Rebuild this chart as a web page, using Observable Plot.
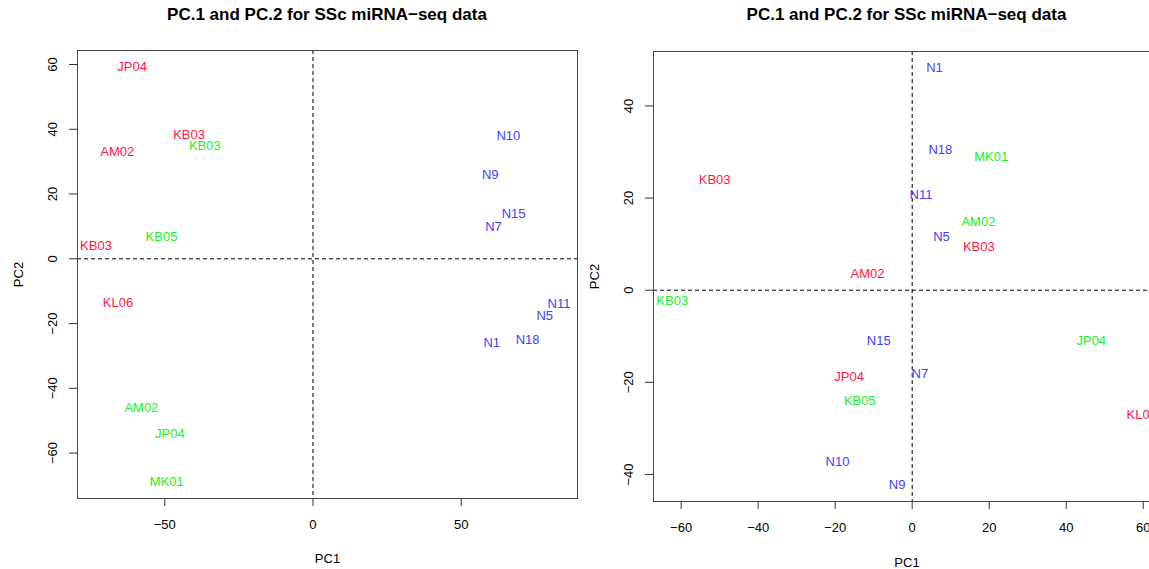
<!DOCTYPE html>
<html>
<head>
<meta charset="utf-8">
<script src="https://cdn.jsdelivr.net/npm/d3@7"></script>
<script src="https://cdn.jsdelivr.net/npm/@observablehq/plot@0.6"></script>
<style>
  html, body { margin: 0; padding: 0; background: #fff; overflow: hidden; }
  #wrap { position: relative; width: 1149px; height: 569px; overflow: hidden; font-family: "Liberation Sans", Arial, sans-serif; background: #fff; }
  .title { position: absolute; top: 5px; font-weight: bold; font-size: 17px; line-height: 20px; text-align: center; color: #000; white-space: nowrap; z-index: 2; }
  .panel { position: absolute; top: 0; z-index: 1; }
  .panel svg { max-width: none !important; display: block; }
</style>
</head>
<body>
<div id="wrap">
  <div class="title" style="left:77px;width:500px;">PC.1 and PC.2 for SSc miRNA−seq data</div>
  <div class="title" style="left:653px;width:507px;">PC.1 and PC.2 for SSc miRNA−seq data</div>
  <div class="panel" id="left" style="left:0px;width:600px;"></div>
  <div class="panel" id="right" style="left:560px;width:620px;"></div>
</div>
<script>
// ---- Left panel data ----
const leftLabels = ["JP04","KB03","AM02","KB03","KL06","KB03","KB05","AM02","JP04","MK01","N10","N9","N15","N7","N11","N5","N18","N1"];
const leftGroup  = ["G1","G1","G1","G1","G1","G2","G2","G2","G2","G2","N","N","N","N","N","N","N","N"];
const leftPC1    = [-61.0,-41.8,-66.0,-73.2,-65.8,-36.5,-51.1,-57.9,-48.3,-49.3,65.9,59.8,67.7,60.9,83.0,78.2,72.4,60.3];
const leftPC2    = [59.2,38.3,33.0,3.9,-13.7,34.8,6.7,-46.0,-54.2,-68.9,38.0,26.0,14.0,9.8,-13.9,-17.5,-25.0,-26.1];
const leftXTicks = [-50,0,50];
const leftYTicks = [-60,-40,-20,0,20,40,60];

// ---- Right panel data ----
const rightLabels = ["KB03","KB03","AM02","JP04","KL06","MK01","AM02","KB03","JP04","KB05","N1","N18","N11","N5","N15","N7","N10","N9"];
const rightGroup  = ["G1","G1","G1","G1","G1","G2","G2","G2","G2","G2","N","N","N","N","N","N","N","N"];
const rightPC1    = [-51.3,17.3,-11.6,-16.4,59.6,20.5,17.2,-62.3,46.5,-13.6,5.8,7.3,2.3,7.6,-8.7,2.0,-19.4,-3.9];
const rightPC2    = [24.0,9.5,3.6,-18.9,-27.0,28.9,14.9,-2.25,-11.0,-24.0,48.2,30.5,20.6,11.5,-10.9,-18.1,-37.2,-42.25];
const rightXTicks = [-60,-40,-20,0,20,40,60];
const rightYTicks = [-40,-20,0,20,40];

const groups = ["G1","G2","N"];
const groupColors = ["#ff1744","#22ee22","#4040ff"];
const FONT = "Liberation Sans, Arial, sans-serif";

function rdomain(v) {
  const [a, b] = d3.extent(v);
  const p = (b - a) * 0.04;
  return [a - p, b + p];
}
const fmt = d => d < 0 ? "\u2212" + Math.abs(d) : String(d);

function panel(labels, grp, xs, ys, xTicks, yTicks, opts) {
  const data = labels.map((l, i) => ({label: l, group: grp[i], x: xs[i], y: ys[i]}));
  return Plot.plot({
    width: opts.width,
    height: 569,
    marginLeft: opts.ml,
    marginRight: opts.mr,
    marginTop: opts.mt,
    marginBottom: opts.mb,
    style: {fontFamily: FONT, fontSize: "13px", background: "transparent", overflow: "visible", maxWidth: "none"},
    x: {domain: rdomain(xs)},
    y: {domain: rdomain(ys)},
    color: {domain: groups, range: groupColors},
    marks: [
      Plot.ruleX([0], {stroke: "#000", strokeDasharray: "4,3", strokeWidth: 1}),
      Plot.ruleY([0], {stroke: "#000", strokeDasharray: "4,3", strokeWidth: 1}),
      Plot.axisX({ticks: xTicks, tickSize: 8, tickFormat: () => "", stroke: "#333", label: null}),
      Plot.axisY({ticks: yTicks, tickSize: 8, tickFormat: () => "", stroke: "#333", label: null}),
      Plot.text(xTicks, {x: d => d, frameAnchor: "bottom", dy: 26, text: fmt, fontSize: 13, fill: "#000", lineAnchor: "middle"}),
      Plot.text(yTicks, {y: d => d, frameAnchor: "left", dx: -25, rotate: -90, text: fmt, fontSize: 13, fill: "#000", textAnchor: "middle", lineAnchor: "middle"}),
      Plot.text(["PC1"], {frameAnchor: "bottom", dy: opts.xlab, text: d => d, fontSize: 13, fill: "#000", lineAnchor: "middle"}),
      Plot.text(["PC2"], {frameAnchor: "left", dx: -59, rotate: -90, text: d => d, fontSize: 13, fill: "#000", textAnchor: "middle", lineAnchor: "middle"}),
      Plot.text(data, {x: "x", y: "y", text: "label", fill: "group", fontSize: 13, textAnchor: "middle", lineAnchor: "middle"}),
      Plot.frame({stroke: "#444", strokeWidth: 1})
    ]
  });
}

document.getElementById("left").append(
  panel(leftLabels, leftGroup, leftPC1, leftPC2, leftXTicks, leftYTicks,
        {width: 600, ml: 77, mr: 23, mt: 50, mb: 71, xlab: 60})
);
document.getElementById("right").append(
  panel(rightLabels, rightGroup, rightPC1, rightPC2, rightXTicks, rightYTicks,
        {width: 620, ml: 93, mr: 20, mt: 51, mb: 68, xlab: 61})
);
</script>
</body>
</html>
